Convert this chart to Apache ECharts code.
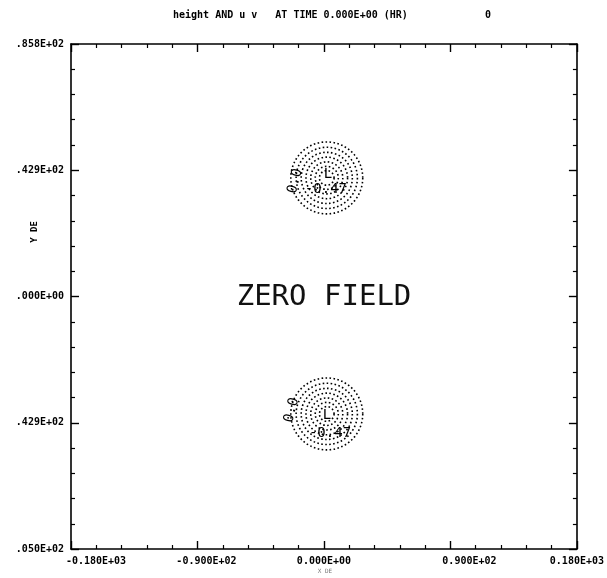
<!DOCTYPE html>
<html>
<head>
<meta charset="utf-8">
<script src="https://cdn.jsdelivr.net/npm/echarts@6/dist/echarts.min.js"></script>
<style>html,body{margin:0;padding:0;background:#fff}#c{width:607px;height:578px}</style>
</head>
<body>
<div id="c"></div>
<script>
// ---- data ----
const xTickValues = [-180, -90, 0, 90, 180];
const xTickLabels = ['-0.180E+03', '-0.900E+02', '0.000E+00', '0.900E+02', '0.180E+03'];
const yTickValues = [-85.8, -42.9, 0, 42.9, 85.8];
const yTickLabels = ['.050E+02', '.429E+02', '.000E+00', '.429E+02', '.858E+02'];
const lowCentersX = [2, 2];
const lowCentersY = [40.3, -39.9];
const ringRadii = [25.6, 21.8, 18.2, 14.8, 11.4, 8.2, 5.2]; // in x-axis units
const labelTexts = ['L', '-0.47', '0.0', 'L', '-0.47', '0.0'];
const labelX = [2.8, 1.4, -20.5, 2.1, 4.3, -23];
const labelY = [41.6, 36.4, 39.2, -40.3, -46.4, -38.6];
const labelRot = [0, 0, 75, 0, 0, 75];
const titleText = 'height AND u v   AT TIME 0.000E+00 (HR)';
const titleTail = '0';
const centerText = 'ZERO FIELD';

// per-label horizontal shift as printed in the original
const xLabelShift = [50, 18, 0, 38, 0];

const ringData = [];
for (let i = 0; i < lowCentersX.length; i++) {
  for (let j = 0; j < ringRadii.length; j++) {
    ringData.push([lowCentersX[i], lowCentersY[i], ringRadii[j]]);
  }
}
const labelData = labelTexts.map((t, i) => [labelX[i], labelY[i], t, labelRot[i]]);

const mono = '"DejaVu Sans Mono", monospace';
const axisCommon = {
  axisLine: { show: true, onZero: false, lineStyle: { color: '#000', width: 1.6 } },
  axisTick: { show: true, inside: true, length: 8, lineStyle: { color: '#000', width: 1.4 } },
  minorTick: { show: true, splitNumber: 5, length: 4, lineStyle: { color: '#000', width: 1.2 } },
  splitLine: { show: false },
  minorSplitLine: { show: false }
};

const chart = echarts.init(document.getElementById('c'));
const xRich = {};
xLabelShift.forEach((s, i) => {
  xRich['s' + i] = { padding: [0, 0, 0, s], fontFamily: mono, fontSize: 10, fontWeight: 'bold', color: '#000' };
});

chart.setOption({
  animation: false,
  backgroundColor: '#fff',
  grid: { left: 71, right: 30, top: 44, bottom: 29, containLabel: false },
  xAxis: [
    Object.assign({}, axisCommon, {
      type: 'value', min: -180, max: 180, interval: 90, position: 'bottom',
      axisLabel: {
        show: true, margin: 7,
        formatter: function (v) {
          const i = xTickValues.findIndex(t => Math.abs(t - v) < 1e-6);
          return i < 0 ? '' : '{s' + i + '|' + xTickLabels[i] + '}';
        },
        rich: xRich
      }
    }),
    Object.assign({}, axisCommon, {
      type: 'value', min: -180, max: 180, interval: 90, position: 'top',
      axisLabel: { show: false }
    })
  ],
  yAxis: [
    Object.assign({}, axisCommon, {
      type: 'value', min: -85.8, max: 85.8, interval: 42.9, position: 'left',
      axisLabel: {
        show: true, margin: 7, fontFamily: mono, fontSize: 10, fontWeight: 'bold', color: '#000',
        formatter: function (v) {
          const i = yTickValues.findIndex(t => Math.abs(t - v) < 1e-6);
          return i < 0 ? '' : yTickLabels[i];
        }
      }
    }),
    Object.assign({}, axisCommon, {
      type: 'value', min: -85.8, max: 85.8, interval: 42.9, position: 'right',
      axisLabel: { show: false }
    })
  ],
  graphic: [
    { type: 'text', left: 173, top: 10, style: { text: titleText, font: 'bold 10px ' + mono, fill: '#000' } },
    { type: 'text', left: 485, top: 10, style: { text: titleTail, font: 'bold 10px ' + mono, fill: '#000' } },
    { type: 'text', x: 324, y: 297, style: { text: centerText, font: '29px ' + mono, fill: '#111', textAlign: 'center', textVerticalAlign: 'middle' } },
    { type: 'text', x: 35, y: 232, rotation: Math.PI / 2, style: { text: 'Y DE', font: 'bold 9px ' + mono, fill: '#000', textAlign: 'center', textVerticalAlign: 'middle' } },
    { type: 'text', x: 325, y: 571, style: { text: 'X DE', font: '6px ' + mono, fill: '#777', textAlign: 'center', textVerticalAlign: 'middle' } }
  ],
  series: [
    {
      type: 'custom',
      coordinateSystem: 'cartesian2d',
      data: ringData,
      renderItem: function (params, api) {
        const c = api.coord([api.value(0), api.value(1)]);
        const r = api.size([api.value(2), 0])[0];
        return {
          type: 'circle',
          shape: { cx: c[0], cy: c[1], r: r },
          style: { fill: 'none', stroke: '#000', lineWidth: 1.6, lineDash: [1.6, 2.4] }
        };
      },
      silent: true
    },
    {
      type: 'custom',
      coordinateSystem: 'cartesian2d',
      data: labelData,
      renderItem: function (params, api) {
        const c = api.coord([api.value(0), api.value(1)]);
        const d = labelData[params.dataIndex];
        return {
          type: 'text',
          x: c[0], y: c[1],
          rotation: d[3] * Math.PI / 180,
          style: { text: d[2], font: '14px ' + mono, fill: '#000', textAlign: 'center', textVerticalAlign: 'middle' }
        };
      },
      silent: true
    }
  ]
});
</script>
</body>
</html>
